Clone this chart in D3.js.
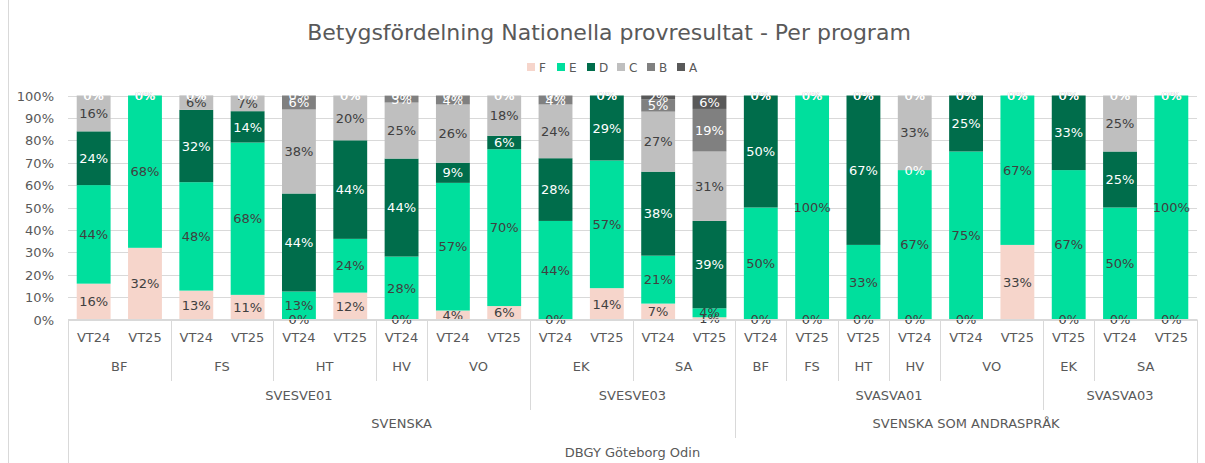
<!DOCTYPE html>
<html>
<head>
<meta charset="utf-8">
<script src="https://cdn.jsdelivr.net/npm/d3@7"></script>
<style>
  body { margin: 0; background: #fff; }
  svg { display: block; font-family: "DejaVu Sans", sans-serif; }
</style>
</head>
<body>
<svg id="chart" width="1205" height="463"></svg>
<script>
// category levels (innermost first)
const periods = ['VT24','VT25','VT24','VT25','VT24','VT25','VT24','VT24','VT25','VT24','VT25','VT24','VT25',
                 'VT24','VT25','VT25','VT24','VT24','VT25','VT25','VT24','VT25'];
const programs = ['BF','BF','FS','FS','HT','HT','HV','VO','VO','EK','EK','SA','SA',
                  'BF','FS','HT','HV','VO','VO','EK','SA','SA'];
const courses = ['SVESVE01','SVESVE01','SVESVE01','SVESVE01','SVESVE01','SVESVE01','SVESVE01','SVESVE01','SVESVE01',
                 'SVESVE03','SVESVE03','SVESVE03','SVESVE03',
                 'SVASVA01','SVASVA01','SVASVA01','SVASVA01','SVASVA01','SVASVA01',
                 'SVASVA03','SVASVA03','SVASVA03'];
const subjects = ['SVENSKA','SVENSKA','SVENSKA','SVENSKA','SVENSKA','SVENSKA','SVENSKA','SVENSKA','SVENSKA',
                  'SVENSKA','SVENSKA','SVENSKA','SVENSKA',
                  'SVENSKA SOM ANDRASPRÅK','SVENSKA SOM ANDRASPRÅK','SVENSKA SOM ANDRASPRÅK','SVENSKA SOM ANDRASPRÅK',
                  'SVENSKA SOM ANDRASPRÅK','SVENSKA SOM ANDRASPRÅK','SVENSKA SOM ANDRASPRÅK','SVENSKA SOM ANDRASPRÅK',
                  'SVENSKA SOM ANDRASPRÅK'];
const school = 'DBGY Göteborg Odin';

// share of each grade, percent
const gradeF = [16, 32, 12.9, 11, 0, 12, 0, 4, 6, 0, 14, 7.1, 1, 0, 0, 0, 0, 0, 33.3, 0, 0, 0];
const gradeE = [44, 68, 48.4, 68, 12.5, 24, 28.1, 57, 70, 44, 57, 21.4, 4, 50, 100, 33.3, 66.7, 75, 66.7, 66.7, 50, 100];
const gradeD = [24, 0, 32.3, 14, 43.75, 44, 43.75, 9, 6, 28, 29, 37.5, 39, 50, 0, 66.7, 0, 25, 0, 33.3, 25, 0];
const gradeC = [16, 0, 6.45, 7, 37.5, 20, 25, 26, 18, 24, 0, 26.8, 31, 0, 0, 0, 33.3, 0, 0, 0, 25, 0];
const gradeB = [0, 0, 0, 0, 6.25, 0, 3.1, 4, 0, 4, 0, 5.4, 19, 0, 0, 0, 0, 0, 0, 0, 0, 0];
const gradeA = [0, 0, 0, 0, 0, 0, 0, 0, 0, 0, 0, 1.8, 6, 0, 0, 0, 0, 0, 0, 0, 0, 0];

const grades = ['F', 'E', 'D', 'C', 'B', 'A'];
const yTicks = [0, 10, 20, 30, 40, 50, 60, 70, 80, 90, 100];

const colors = { F: '#f6d5cb', E: '#00df9d', D: '#006d4b', C: '#bfbfbf', B: '#808080', A: '#595959' };
const labelColors = { F: '#404040', E: '#404040', D: '#ffffff', C: '#404040', B: '#ffffff', A: '#ffffff' };

const svg = d3.select('#chart');
const n = periods.length;
const rows = d3.range(n).map(i => ({
  i: i, F: gradeF[i], E: gradeE[i], D: gradeD[i], C: gradeC[i], B: gradeB[i], A: gradeA[i]
}));
const series = d3.stack().keys(grades)(rows);

const plotLeft = 68, plotRight = 1197, plotTop = 95.5, plotBottom = 319.5;
const x = d3.scaleBand().domain(d3.range(n)).range([plotLeft, plotRight]).paddingInner(0.34).paddingOuter(0.17);
const y = d3.scaleLinear().domain([0, 100]).range([plotBottom, plotTop]);
const step = x.step();

// chart area border (left edge only is visible)
svg.append('line').attr('x1', 8.5).attr('x2', 8.5).attr('y1', 0).attr('y2', 463)
  .attr('stroke', '#d9d9d9');

// title
const title = svg.append('text')
  .attr('x', 609).attr('y', 40)
  .attr('text-anchor', 'middle')
  .attr('fill', '#595959')
  .attr('font-size', 22)
  .text('Betygsfördelning Nationella provresultat - Per program');
const tw = title.node().getComputedTextLength();
title.attr('font-size', 22 * 604 / tw);

// legend
const legend = svg.append('g').attr('transform', 'translate(527,0)');
grades.forEach((g, k) => {
  const item = legend.append('g').attr('transform', `translate(${k * 30},0)`);
  item.append('rect').attr('x', 0).attr('y', 63).attr('width', 8).attr('height', 8).attr('fill', colors[g]);
  item.append('text').attr('x', 12).attr('y', 72).attr('font-size', 12).attr('fill', '#595959').text(g);
});

// gridlines + y labels
svg.append('g').selectAll('line').data(yTicks).join('line')
  .attr('x1', plotLeft).attr('x2', plotRight)
  .attr('y1', d => Math.round(y(d)) + 0.5).attr('y2', d => Math.round(y(d)) + 0.5)
  .attr('stroke', '#d9d9d9');
svg.append('g').selectAll('text').data(yTicks).join('text')
  .attr('x', 54).attr('y', d => y(d) + 5)
  .attr('text-anchor', 'end')
  .attr('font-size', 13)
  .attr('fill', '#595959')
  .text(d => d + '%');

// bars
svg.append('g').selectAll('g').data(series).join('g')
  .attr('fill', s => colors[s.key])
  .selectAll('rect').data(s => s).join('rect')
  .attr('x', d => x(d.data.i))
  .attr('width', x.bandwidth())
  .attr('y', d => y(d[1]))
  .attr('height', d => y(d[0]) - y(d[1]));

// data labels
svg.append('clipPath').attr('id', 'plotclip')
  .append('rect').attr('x', plotLeft).attr('y', 92).attr('width', plotRight - plotLeft).attr('height', 240);
const labels = svg.append('g').attr('clip-path', 'url(#plotclip)');
series.forEach(s => {
  labels.append('g').selectAll('text').data(s).join('text')
    .attr('x', d => x(d.data.i) + x.bandwidth() / 2)
    .attr('y', d => y((d[0] + d[1]) / 2))
    .attr('dy', '0.36em')
    .attr('text-anchor', 'middle')
    .attr('font-size', 13)
    .attr('fill', labelColors[s.key])
    .text(d => Math.round(d.data[s.key]) + '%');
});

// category axis line
svg.append('line').attr('x1', plotLeft).attr('x2', plotRight).attr('y1', plotBottom).attr('y2', plotBottom)
  .attr('stroke', '#d9d9d9');

// multi-level category axis
const levelKey = [
  i => String(i),
  i => subjects[i] + '|' + courses[i] + '|' + programs[i],
  i => subjects[i] + '|' + courses[i],
  i => subjects[i],
  i => school
];
const levelText = [i => periods[i], i => programs[i], i => courses[i], i => subjects[i], i => school];
const rowCenter = [337, 366, 395, 423, 452];
const rowBottom = [351, 381, 410, 438, 470];

const axis = svg.append('g');
levelKey.forEach((key, L) => {
  const groups = [];
  d3.range(n).forEach(i => {
    const last = groups[groups.length - 1];
    if (last && key(last.end) === key(i)) last.end = i;
    else groups.push({ start: i, end: i });
  });
  axis.append('g').selectAll('text').data(groups).join('text')
    .attr('x', g => plotLeft + (g.start + g.end + 1) / 2 * step)
    .attr('y', rowCenter[L] + 5)
    .attr('text-anchor', 'middle')
    .attr('font-size', 13)
    .attr('fill', '#595959')
    .text(g => levelText[L](g.start));
});

// separators between groups, as deep as the highest level that changes
const seps = d3.range(n + 1).map(b => {
  let depth = 0;
  if (b === 0 || b === n) depth = 4;
  else {
    for (let L = 4; L >= 1; L--) {
      if (levelKey[L](b - 1) !== levelKey[L](b)) { depth = L; break; }
    }
  }
  return { b: b, depth: depth };
}).filter(s => s.depth > 0);
axis.append('g').selectAll('line').data(seps).join('line')
  .attr('x1', s => Math.round(plotLeft + s.b * step) + 0.5)
  .attr('x2', s => Math.round(plotLeft + s.b * step) + 0.5)
  .attr('y1', plotBottom)
  .attr('y2', s => rowBottom[s.depth])
  .attr('stroke', '#d9d9d9');
</script>
</body>
</html>
